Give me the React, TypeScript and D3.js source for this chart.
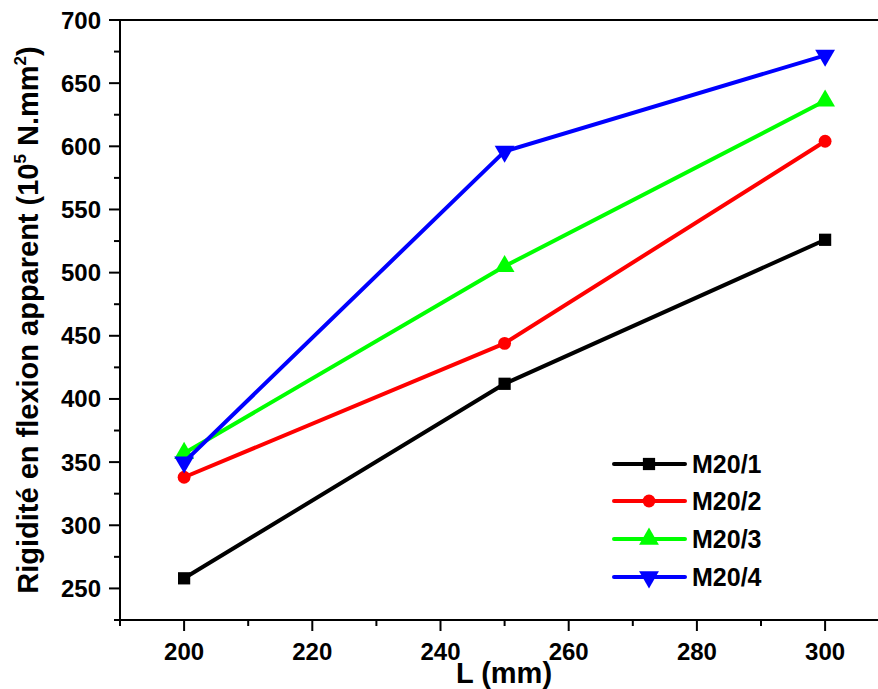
import React from "react";
import * as d3 from "d3";

const lengths = [200, 250, 300];
const seriesNames = ["M20/1", "M20/2", "M20/3", "M20/4"];
const m20_1 = [258, 412, 526];
const m20_2 = [338, 444, 604];
const m20_3 = [357, 505, 636];
const m20_4 = [350, 596, 672];
const seriesValues = [m20_1, m20_2, m20_3, m20_4];
const seriesColors = ["#000000", "#ff0000", "#00ff00", "#0000ff"];
const xMajorTicks = [200, 220, 240, 260, 280, 300];
const xMinorTicks = [190, 210, 230, 250, 270, 290, 310];
const yMajorTicks = [250, 300, 350, 400, 450, 500, 550, 600, 650, 700];
const yMinorTicks = [225, 275, 325, 375, 425, 475, 525, 575, 625, 675];

const W = 878;
const H = 689;
const left = 120;
const top = 20;
const bottom = 620;

const x = d3.scaleLinear().domain([190, 310]).range([left, left + 120 * 6.41]);
const y = d3.scaleLinear().domain([225, 700]).range([bottom, top]);

const symbolTypes = [d3.symbolSquare, d3.symbolCircle, d3.symbolTriangle, d3.symbolTriangle];
const symbolSizes = [150, 130, 170, 170];
const symbolRot = [0, 0, 0, 180];

function Marker({ i, cx, cy }: { i: number; cx: number; cy: number }) {
  const path = d3.symbol().type(symbolTypes[i]).size(symbolSizes[i])() as string;
  return (
    <path
      d={path}
      fill={seriesColors[i]}
      transform={`translate(${cx},${cy}) rotate(${symbolRot[i]})`}
    />
  );
}

export default function App() {
  const line = d3
    .line<number>()
    .x((_, j) => x(lengths[j]))
    .y((v) => y(v));
  const font = "'Liberation Sans', Arial, sans-serif";
  const legendRows = [464, 501, 539, 577];
  return (
    <svg
      width={W}
      height={H}
      style={{ position: "absolute", left: 0, top: 0, background: "#fff" }}
      fontFamily={font}
    >
      <rect x={0} y={0} width={W} height={H} fill="#fff" />
      {/* axes frame */}
      <line x1={left} x2={W} y1={top} y2={top} stroke="#000" strokeWidth={2} />
      <line x1={left} x2={W} y1={bottom} y2={bottom} stroke="#000" strokeWidth={2} />
      <line x1={left} x2={left} y1={top} y2={bottom + 1} stroke="#000" strokeWidth={2} />
      {/* x ticks */}
      {xMajorTicks.map((t) => (
        <g key={"xm" + t}>
          <line x1={x(t)} x2={x(t)} y1={bottom} y2={bottom + 11} stroke="#000" strokeWidth={2} />
          <text x={x(t)} y={660} textAnchor="middle" fontSize={24} fontWeight="bold">
            {t}
          </text>
        </g>
      ))}
      {xMinorTicks.map((t) => (
        <line key={"xn" + t} x1={x(t)} x2={x(t)} y1={bottom} y2={bottom + 6} stroke="#000" strokeWidth={2} />
      ))}
      {/* y ticks */}
      {yMajorTicks.map((t) => (
        <g key={"ym" + t}>
          <line x1={left - 11} x2={left} y1={y(t)} y2={y(t)} stroke="#000" strokeWidth={2} />
          <text x={101} y={y(t) + 8.5} textAnchor="end" fontSize={24} fontWeight="bold">
            {t}
          </text>
        </g>
      ))}
      {yMinorTicks.map((t) => (
        <line key={"yn" + t} x1={left - 6} x2={left} y1={y(t)} y2={y(t)} stroke="#000" strokeWidth={2} />
      ))}
      {/* axis titles */}
      <text x={504} y={683} textAnchor="middle" fontSize={29} fontWeight="bold">
        L (mm)
      </text>
      <text
        transform={`translate(38,320) rotate(-90)`}
        textAnchor="middle"
        fontSize={29}
        fontWeight="bold"
      >
        Rigidité en flexion apparent (10
        <tspan fontSize={17} dy={-12}>5</tspan>
        <tspan dy={12}> N.mm</tspan>
        <tspan fontSize={17} dy={-12}>2</tspan>
        <tspan dy={12}>)</tspan>
      </text>
      {/* series */}
      {seriesValues.map((vals, i) => (
        <g key={"s" + i}>
          <path d={line(vals) as string} fill="none" stroke={seriesColors[i]} strokeWidth={4} strokeLinejoin="round" />
          {vals.map((v, j) => (
            <Marker key={j} i={i} cx={x(lengths[j])} cy={y(v)} />
          ))}
        </g>
      ))}
      {/* legend */}
      {seriesNames.map((name, i) => (
        <g key={"l" + i}>
          <line x1={614} x2={685} y1={legendRows[i]} y2={legendRows[i]} stroke={seriesColors[i]} strokeWidth={4} strokeLinecap="round" />
          <Marker i={i} cx={649} cy={legendRows[i]} />
          <text x={692} y={legendRows[i] + 9} fontSize={25} fontWeight="bold">
            {name}
          </text>
        </g>
      ))}
    </svg>
  );
}
